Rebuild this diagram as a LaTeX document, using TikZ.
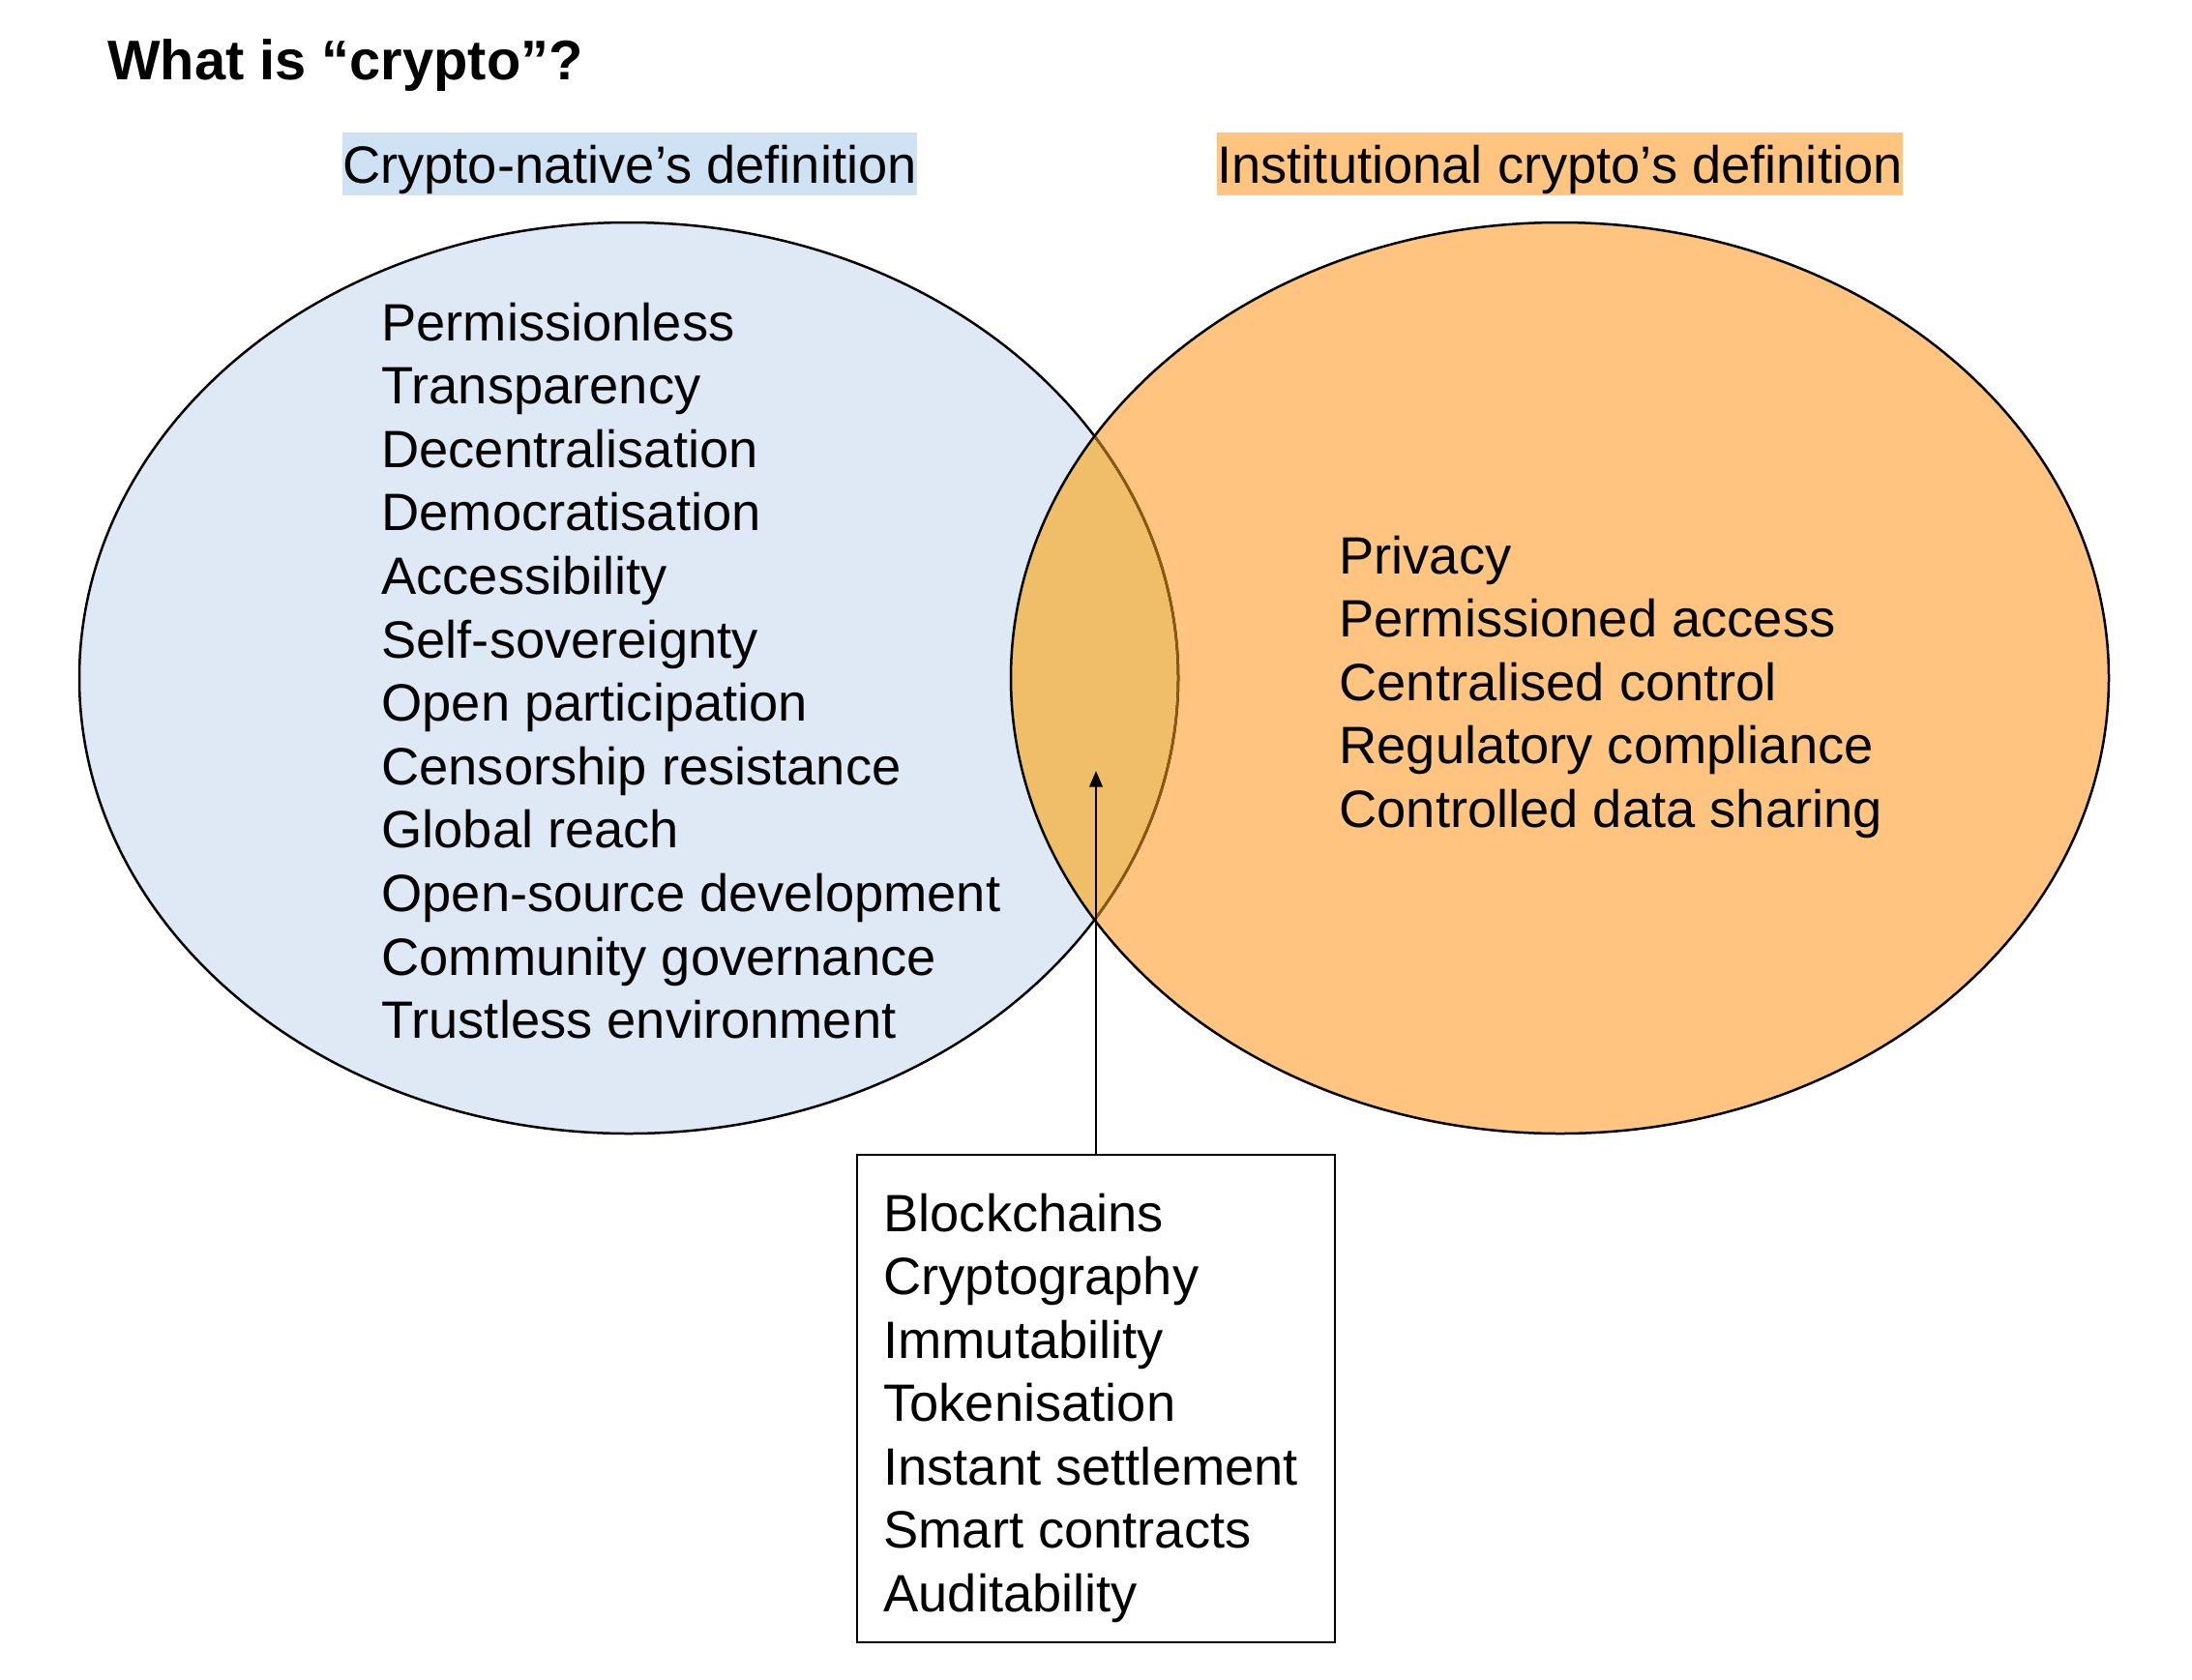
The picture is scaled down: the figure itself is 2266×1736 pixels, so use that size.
\documentclass[tikz,border=0pt]{standalone}
\usepackage{fontspec}
\setmainfont{Liberation Sans}
\usetikzlibrary{arrows.meta}
\definecolor{nativefill}{RGB}{223,233,245}
\definecolor{nativelabel}{RGB}{207,226,243}
\definecolor{instfill}{RGB}{254,196,128}
\definecolor{overlapfill}{RGB}{240,189,104}
\definecolor{overlapline}{RGB}{140,90,10}
\definecolor{instlabel}{RGB}{255,196,128}
\begin{document}
\begin{tikzpicture}[x=0.5pt,y=-0.5pt,
  body/.style={font=\fontsize{27.15pt}{32.8pt}\selectfont, inner sep=0pt, anchor=base west},
  headbox/.style={font=\fontsize{27.15pt}{32.8pt}\selectfont, inner sep=0pt, text height=26.25pt, text depth=6.35pt, anchor=base},
  venn/.style={line width=1.25pt},
  framebox/.style={draw=black, line width=1.3pt, inner sep=0pt},
  pointer/.style={line width=1.3pt, -{Triangle[length=8.3pt,width=6.7pt]}}]
\useasboundingbox (0,0) rectangle (2266,1736);
\fill[white] (0,0) rectangle (2266,1736);
% title
\node[font=\bfseries\fontsize{28.9pt}{34pt}\selectfont, inner sep=0pt, anchor=base west] (title) at (111,82) {What is “crypto”?};
% labels
\node[headbox, fill=nativelabel, minimum width=296pt] (nlabel) at (651,189) {Crypto-native’s definition};
\node[headbox, fill=instlabel, minimum width=352.5pt] (ilabel) at (1612.5,189) {Institutional crypto’s definition};
% ellipses
\def\leftell{(650,701) ellipse [x radius=568, y radius=471]}
\def\rightell{(1612.5,701) ellipse [x radius=567.5, y radius=471]}
\fill[nativefill] \leftell;
\fill[instfill] \rightell;
\begin{scope}
  \clip \leftell;
  \fill[overlapfill] \rightell;
\end{scope}
\draw[venn, black] \leftell;
\begin{scope}
  \clip \rightell;
  \draw[venn, overlapline] \leftell;
\end{scope}
\draw[venn, black] \rightell;
% left list
\foreach \t [count=\i from 0] in {Permissionless, Transparency, Decentralisation, Democratisation, Accessibility, Self-sovereignty, Open participation, Censorship resistance, Global reach, Open-source development, Community governance, Trustless environment}
  \node[body] (nat\i) at (394,{352+65.6*\i}) {\t};
% right list
\foreach \t [count=\i from 0] in {Privacy, Permissioned access, Centralised control, Regulatory compliance, Controlled data sharing}
  \node[body] (ins\i) at (1384,{593+65.6*\i}) {\t};
% shared box
\node[framebox, minimum width=247pt, minimum height=252pt] (box) at (1133,1446) {};
\foreach \t [count=\i from 0] in {Blockchains, Cryptography, Immutability, Tokenisation, Instant settlement, Smart contracts, Auditability}
  \node[body] (sh\i) at (913,{1273+65.5*\i}) {\t};
\coordinate (tip) at (1133,797);
\draw[pointer] (box.north) -- (tip);
\end{tikzpicture}
\end{document}
